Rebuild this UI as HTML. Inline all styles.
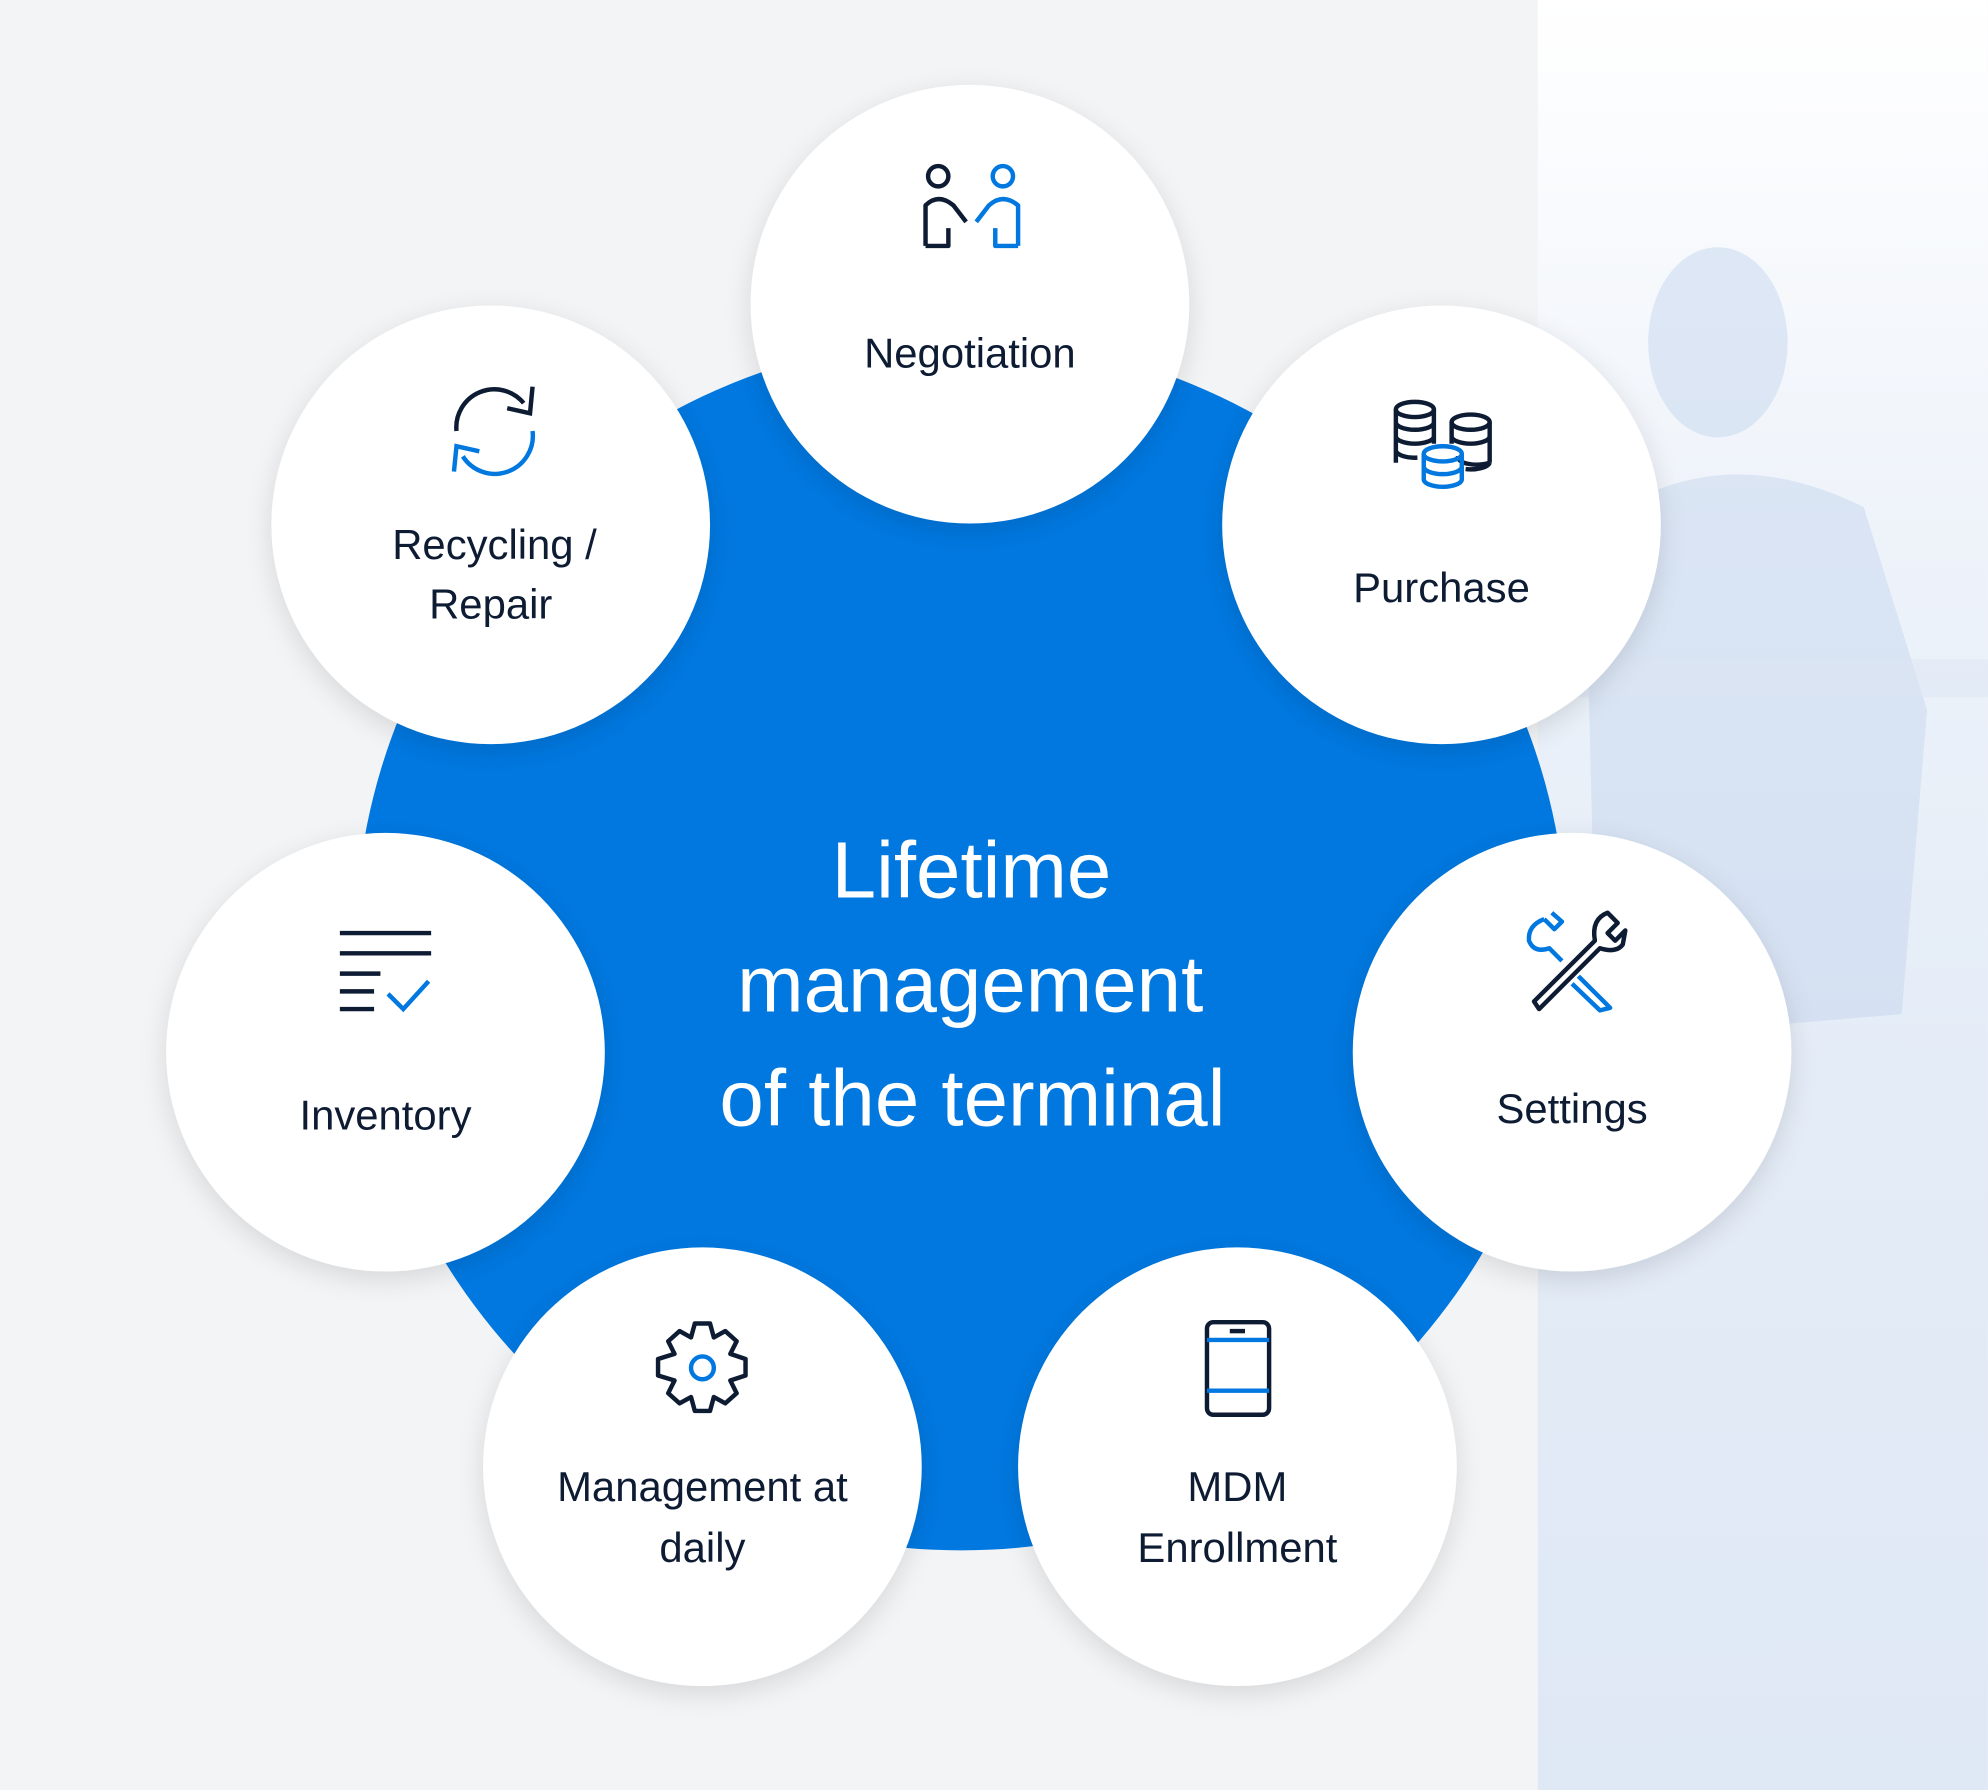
<!DOCTYPE html>
<html><head><meta charset="utf-8"><style>
html,body{margin:0;padding:0;background:#f3f4f6;}
svg{display:block}
text{font-family:"Liberation Sans",sans-serif;}
</style></head><body>
<svg width="1988" height="1790" viewBox="0 0 1568 1412" xmlns="http://www.w3.org/2000/svg">
<defs>
<filter id="sh" x="-30%" y="-30%" width="160%" height="160%">
<feDropShadow dx="0" dy="6" stdDeviation="10" flood-color="#000" flood-opacity="0.12"/>
</filter>
<linearGradient id="ph" x1="0" y1="0" x2="0" y2="1">
<stop offset="0" stop-color="#ffffff"/>
<stop offset="0.3" stop-color="#eef3fa"/>
<stop offset="0.6" stop-color="#e4ecf7"/>
<stop offset="1" stop-color="#dfe8f5"/>
</linearGradient>
</defs>
<rect width="1568" height="1412" fill="#f3f4f6"/>
<rect x="1213" y="0" width="355" height="1412" fill="url(#ph)"/>
<ellipse cx="1355" cy="270" rx="55" ry="75" fill="#c9d8ee" opacity="0.55"/>
<path d="M1250 420 Q1350 340 1470 400 L1520 560 L1500 800 L1260 820 Z" fill="#c6d6ee" opacity="0.5"/>
<rect x="1213" y="520" width="355" height="30" fill="#dbe5f3" opacity="0.5"/>
<circle cx="758" cy="745" r="478" fill="#0078e0"/>
<text fill="#fff" font-size="63" text-anchor="middle">
<tspan x="775" y="708">Lifetime</tspan>
<tspan x="774" y="798">management</tspan>
<tspan x="767" y="888">of the terminal</tspan>
</text>
<g filter="url(#sh)" fill="#fff">
<circle cx="765" cy="240" r="173"/>
<circle cx="387" cy="414" r="173"/>
<circle cx="1137" cy="414" r="173"/>
<circle cx="304" cy="830" r="173"/>
<circle cx="1240" cy="830" r="173"/>
<circle cx="554" cy="1157" r="173"/>
<circle cx="976" cy="1157" r="173"/>
</g>
<g fill="#0d1b33" font-size="33" text-anchor="middle">
<text x="765" y="290">Negotiation</text>
<text x="390" y="441">Recycling /</text>
<text x="387" y="488">Repair</text>
<text x="1137" y="475">Purchase</text>
<text x="304" y="891">Inventory</text>
<text x="1240" y="886">Settings</text>
<text x="554" y="1184">Management at</text>
<text x="554" y="1232">daily</text>
<text x="976" y="1184">MDM</text>
<text x="976" y="1232">Enrollment</text>
</g>
<g fill="none" stroke-width="3.5" stroke-linejoin="round">
<circle cx="740" cy="139" r="8" stroke="#0d1b33"/>
<path d="M730 194 V162 Q740 152 752 162 L762 175" stroke="#0d1b33"/>
<path d="M730 194 H748 V180" stroke="#0d1b33"/>
<circle cx="791" cy="139" r="8" stroke="#0078e0"/>
<path d="M803 194 V162 Q791 152 780 162 L770 175" stroke="#0078e0"/>
<path d="M803 194 H785 V180" stroke="#0078e0"/>
</g>
<g fill="none" stroke-width="3.5">
<path d="M360 340 A30 30 0 0 1 413 318" stroke="#0d1b33"/>
<path d="M420 305 L418 326 L400 322" stroke="#0d1b33"/>
<path d="M420 340 A30 30 0 0 1 365 360" stroke="#0078e0"/>
<path d="M358 372 L360 352 L378 356" stroke="#0078e0"/>
</g>
<g fill="none" stroke-width="3.5">
<g stroke="#0d1b33">
<ellipse cx="1116" cy="323" rx="15" ry="6"/>
<path d="M1101 323 V365 M1131 323 V350 M1101 333 A15 6 0 0 0 1131 333 M1101 344 A15 6 0 0 0 1131 344 M1101 355 A15 6 0 0 0 1118 361"/>
<ellipse cx="1160" cy="333" rx="15" ry="6"/>
<path d="M1145 333 V350 M1175 333 V365 M1145 344 A15 6 0 0 0 1175 344 M1150 360 A15 6 0 0 0 1175 365 M1156 370 A15 6 0 0 0 1175 365"/>
</g>
<g stroke="#0078e0">
<ellipse cx="1138" cy="358" rx="15" ry="6"/>
<path d="M1123 358 V378 M1153 358 V378 M1123 368 A15 6 0 0 0 1153 368 M1123 378 A15 6 0 0 0 1153 378"/>
</g>
</g>
<g fill="none" stroke-width="3.5">
<path d="M268 736 H340 M268 752 H340 M268 768 H300 M268 782 H295 M268 796 H295" stroke="#0d1b33"/>
<path d="M306 784 L318 796 L338 774" stroke="#0078e0"/>
</g>
<g fill="none" stroke-width="3.5" stroke-linejoin="round">
<path d="M1210 790 L1258 742 Q1255 725 1268 720 L1276 728 L1268 736 L1274 742 L1282 734 L1280 745 Q1275 752 1262 748 L1214 796 Z" stroke="#0d1b33"/>
<path d="M1218 725 Q1205 730 1206 742 Q1210 752 1222 748 L1232 758" stroke="#0078e0"/>
<path d="M1218 725 L1226 733 L1232 727 L1224 720" stroke="#0078e0"/>
<path d="M1245 770 L1265 790 L1270 795 L1262 797 L1240 776" stroke="#0078e0"/>
</g>
<g fill="none" stroke-width="3.5" stroke-linejoin="round">
<path d="M548 1044 H560 L563 1055 L572 1050 L581 1058 L576 1068 L588 1072 V1085 L576 1089 L581 1099 L572 1107 L563 1102 L560 1113 H548 L545 1102 L536 1107 L527 1099 L532 1089 L519 1085 V1072 L532 1068 L527 1058 L536 1050 L545 1055 Z" stroke="#0d1b33"/>
<circle cx="554" cy="1079" r="9" stroke="#0078e0"/>
</g>
<g fill="none" stroke-width="3.5">
<rect x="952" y="1043" width="49" height="73" rx="5" stroke="#0d1b33"/>
<path d="M952 1057 H1001 M952 1097 H1001" stroke="#0078e0"/>
<path d="M970 1050 H982" stroke="#0d1b33"/>
</g>
</svg>
</body></html>
